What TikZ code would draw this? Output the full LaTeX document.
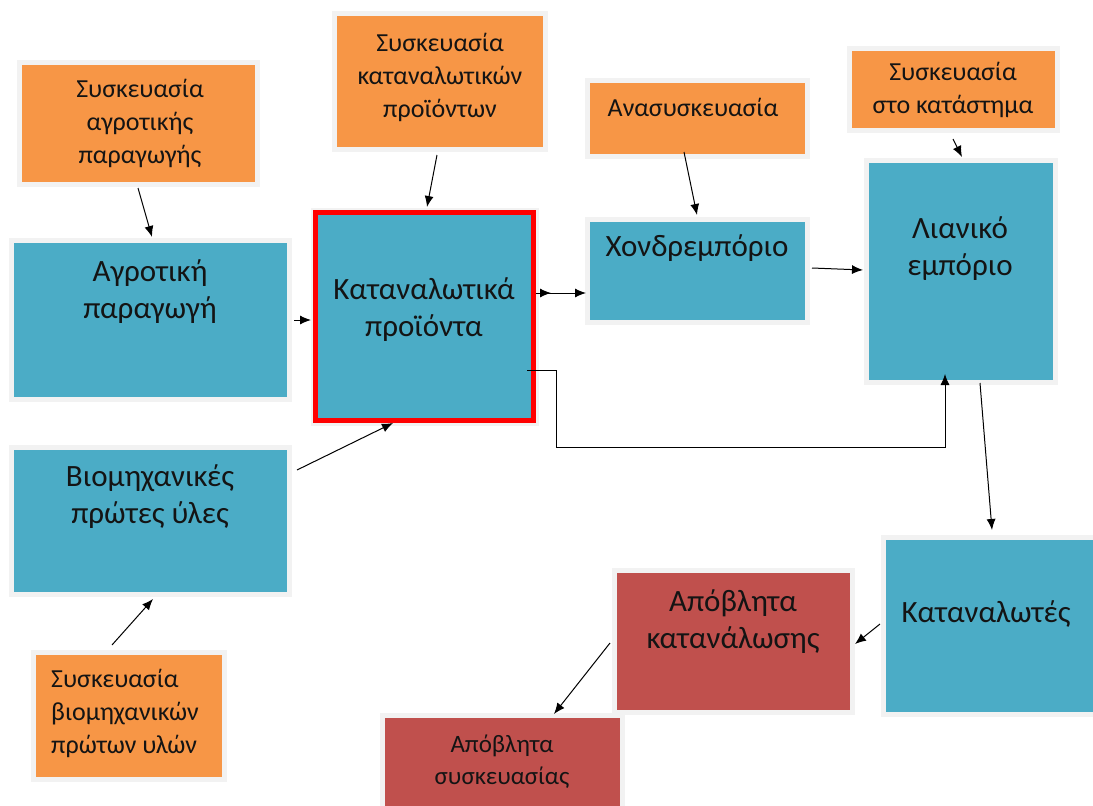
\documentclass[tikz,border=0pt]{standalone}
\usepackage{fontspec}
\setmainfont{Carlito}
\usetikzlibrary{arrows.meta}
\definecolor{blueC}{HTML}{4BACC6}
\definecolor{orangeC}{HTML}{F79646}
\definecolor{redC}{HTML}{C0504D}
\definecolor{haloC}{HTML}{F2F2F2}
\definecolor{txtC}{HTML}{141414}
\tikzset{
  box/.style={anchor=north west, inner sep=0pt, outer sep=0pt,
    preaction={draw=haloC, line width=10pt}},
  bluebox/.style={box, fill=blueC},
  orbox/.style={box, fill=orangeC},
  redbox/.style={box, fill=redC},
  btxt/.style={align=center, text=txtC, font=\fontsize{31}{37}\selectfont, inner sep=0pt},
  otxt/.style={align=center, text=txtC, font=\fontsize{26}{33}\selectfont, inner sep=0pt},
  arr/.style={-{Latex[length=11pt,width=9pt]}, line width=1pt, black},
}
\begin{document}
\begin{tikzpicture}[x=1pt,y=-1pt]
\useasboundingbox[fill=white] (0,0) rectangle (1093,806);
% boxes
\node[orbox, minimum width=233, minimum height=117] (o1) at (22,65) {};
\node[orbox, minimum width=206, minimum height=131] (o2) at (337,16) {};
\node[orbox, minimum width=215, minimum height=71] (o3) at (590,83) {};
\node[orbox, minimum width=203, minimum height=77] (o4) at (852,51) {};
\node[orbox, minimum width=186, minimum height=122] (o5) at (36,655) {};
\node[bluebox, minimum width=273, minimum height=154] (agro) at (14,243) {};
\node[bluebox, minimum width=273, minimum height=142] (biom) at (14,450) {};
\node[box, fill=blueC, draw=red, line width=5pt, minimum width=218, minimum height=208] (kat) at (315.5,212.5) {};
\node[bluebox, minimum width=215, minimum height=98] (chon) at (590,222) {};
\node[bluebox, minimum width=184, minimum height=217] (lian) at (869,163) {};
\node[bluebox, minimum width=207, minimum height=172] (cons) at (886,540) {};
\node[redbox, minimum width=233, minimum height=137] (wcons) at (617,573) {};
\node[redbox, minimum width=235, minimum height=95] (wpack) at (385,718) {};
% texts
\node[otxt] (to1) at (140,123) {Συσκευασία\\αγροτικής\\παραγωγής};
\node[otxt] (to2) at (440,77) {Συσκευασία\\καταναλωτικών\\προϊόντων};
\node[otxt] (to3) at (693,107) {Ανασυσκευασία};
\node[otxt] (to4) at (953,90) {Συσκευασία\\στο κατάστημα};
\node[otxt, align=left, anchor=west] (to5) at (51,713) {Συσκευασία\\βιομηχανικών\\πρώτων υλών};
\node[btxt] (tagro) at (150,292) {Αγροτική\\παραγωγή};
\node[btxt] (tkat) at (424,310) {Καταναλωτικά\\προϊόντα};
\node[btxt] (tchon) at (697,248) {Χονδρεμπόριο};
\node[btxt] (tlian) at (960,249) {Λιανικό\\εμπόριο};
\node[btxt] (tbiom) at (150,497) {Βιομηχανικές\\πρώτες ύλες};
\node[btxt] (tcons) at (986,614) {Καταναλωτές};
\node[btxt] (twcons) at (733,622) {Απόβλητα\\κατανάλωσης};
\node[otxt, font=\fontsize{25}{32}\selectfont] (twpack) at (502,762) {Απόβλητα\\συσκευασίας};
% connector anchor coordinates
\coordinate (a1s) at (138,188); \coordinate (a1e) at (152,237);
\coordinate (a2s) at (437,155); \coordinate (a2e) at (427,207);
\coordinate (a3s) at (294,320); \coordinate (a3e) at (311,320);
\coordinate (a4s) at (536,293); \coordinate (a4e) at (586,293);
\coordinate (a5s) at (684,152); \coordinate (a5e) at (697,215);
\coordinate (a6s) at (812,268); \coordinate (a6e) at (863,270);
\coordinate (a7s) at (953,139); \coordinate (a7e) at (962,157);
\coordinate (a8s) at (527,370); \coordinate (a8e) at (945,374);
\coordinate (a9s) at (980,383); \coordinate (a9e) at (992,530);
\coordinate (a10s) at (880,624); \coordinate (a10e) at (855,644);
\coordinate (a11s) at (610,643); \coordinate (a11e) at (554,714);
\coordinate (a12s) at (297,470); \coordinate (a12e) at (393,423);
\coordinate (a13s) at (112,645); \coordinate (a13e) at (153,599);
% connectors
\draw[arr] (a1s) -- (a1e);
\draw[arr] (a2s) -- (a2e);
\draw[arr] (a3s) -- (a3e);
\draw[arr] (a4s) -- (a4e);
\draw[arr] (a4s) -- ++(15,0);
\draw[arr] (a5s) -- (a5e);
\draw[arr] (a6s) -- (a6e);
\draw[arr] (a7s) -- (a7e);
\draw[arr, line width=0.8pt] (a8s) -| ++(29,77) -| (a8e);
\draw[arr] (a9s) -- (a9e);
\draw[arr] (a10s) -- (a10e);
\draw[arr] (a11s) -- (a11e);
\draw[arr] (a12s) -- (a12e);
\draw[arr] (a13s) -- (a13e);
\end{tikzpicture}
\end{document}
